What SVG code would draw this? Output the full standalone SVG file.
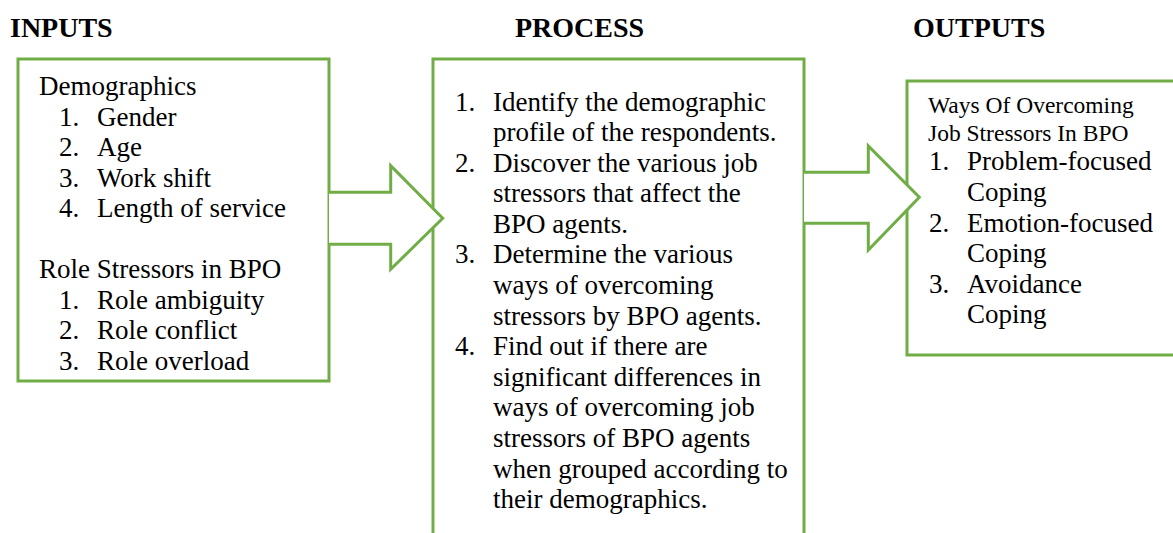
<svg xmlns="http://www.w3.org/2000/svg" width="1173" height="533" viewBox="0 0 1173 533">
  <style>
    .box { fill: #ffffff; stroke: #70ad47; stroke-width: 3; }
    .arrow { fill: #ffffff; stroke: #70ad47; stroke-width: 3; stroke-linejoin: miter; }
    .hd { font-family: 'Liberation Serif', 'Times New Roman', serif; font-weight: bold; font-size: 28px; fill: #000000; }
    .tx { font-family: 'Liberation Serif', 'Times New Roman', serif; font-size: 27px; fill: #000000; }
    .sm { font-family: 'Liberation Serif', 'Times New Roman', serif; font-size: 23.5px; fill: #000000; }
  </style>
  <rect width="1173" height="533" fill="#ffffff"/>

  <!-- column headings -->
  <g id="headings">
    <text class="hd" x="10" y="36.5">INPUTS</text>
    <text class="hd" x="515" y="36.5">PROCESS</text>
    <text class="hd" x="913" y="36.5">OUTPUTS</text>
  </g>

  <!-- inputs box -->
  <g id="inputs">
    <rect class="box" x="18" y="59" width="311" height="322"/>
    <text class="tx" x="39" y="95">Demographics</text>
    <text class="tx" x="59" y="125.5">1.</text><text class="tx" x="97" y="125.5">Gender</text>
    <text class="tx" x="59" y="156">2.</text><text class="tx" x="97" y="156">Age</text>
    <text class="tx" x="59" y="186.5">3.</text><text class="tx" x="97" y="186.5">Work shift</text>
    <text class="tx" x="59" y="217">4.</text><text class="tx" x="97" y="217">Length of service</text>
    <text class="tx" x="39" y="278">Role Stressors in BPO</text>
    <text class="tx" x="59" y="308.5">1.</text><text class="tx" x="97" y="308.5">Role ambiguity</text>
    <text class="tx" x="59" y="339">2.</text><text class="tx" x="97" y="339">Role conflict</text>
    <text class="tx" x="59" y="369.5">3.</text><text class="tx" x="97" y="369.5">Role overload</text>
  </g>

  <!-- process box (runs past the bottom edge) -->
  <g id="process">
    <rect class="box" x="433" y="59" width="371" height="490"/>
    <text class="tx" x="455" y="110.7">1.</text><text class="tx" x="493" y="110.7">Identify the demographic</text>
    <text class="tx" x="493" y="141">profile of the respondents.</text>
    <text class="tx" x="455" y="171.7">2.</text><text class="tx" x="493" y="171.7">Discover the various job</text>
    <text class="tx" x="493" y="202.3">stressors that affect the</text>
    <text class="tx" x="493" y="233">BPO agents.</text>
    <text class="tx" x="455" y="263.2">3.</text><text class="tx" x="493" y="263.2">Determine the various</text>
    <text class="tx" x="493" y="293.7">ways of overcoming</text>
    <text class="tx" x="493" y="324.5">stressors by BPO agents.</text>
    <text class="tx" x="455" y="355">4.</text><text class="tx" x="493" y="355">Find out if there are</text>
    <text class="tx" x="493" y="385.7">significant differences in</text>
    <text class="tx" x="493" y="416.3">ways of overcoming job</text>
    <text class="tx" x="493" y="446.8">stressors of BPO agents</text>
    <text class="tx" x="493" y="477.5">when grouped according to</text>
    <text class="tx" x="493" y="508.3">their demographics.</text>
  </g>

  <!-- outputs box (runs past the right edge) -->
  <g id="outputs">
    <rect class="box" x="907" y="81" width="290" height="274"/>
    <text class="sm" x="928" y="113.3">Ways Of Overcoming</text>
    <text class="sm" x="928" y="141">Job Stressors In BPO</text>
    <text class="tx" x="929" y="170">1.</text><text class="tx" x="967" y="170">Problem-focused</text>
    <text class="tx" x="967" y="200.7">Coping</text>
    <text class="tx" x="929" y="231.5">2.</text><text class="tx" x="967" y="231.5">Emotion-focused</text>
    <text class="tx" x="967" y="262">Coping</text>
    <text class="tx" x="929" y="292.7">3.</text><text class="tx" x="967" y="292.7">Avoidance</text>
    <text class="tx" x="967" y="323.3">Coping</text>
  </g>

  <!-- block arrows between the stages -->
  <g id="connectors">
    <path class="arrow" d="M329,192.3 H390.7 V165.7 L442.7,218.3 L390.7,269.3 V244.3 H329"/>
    <path class="arrow" d="M804,172.3 H868.3 V146 L919.3,197.3 L868.3,250 V223.3 H804"/>
  </g>
</svg>
